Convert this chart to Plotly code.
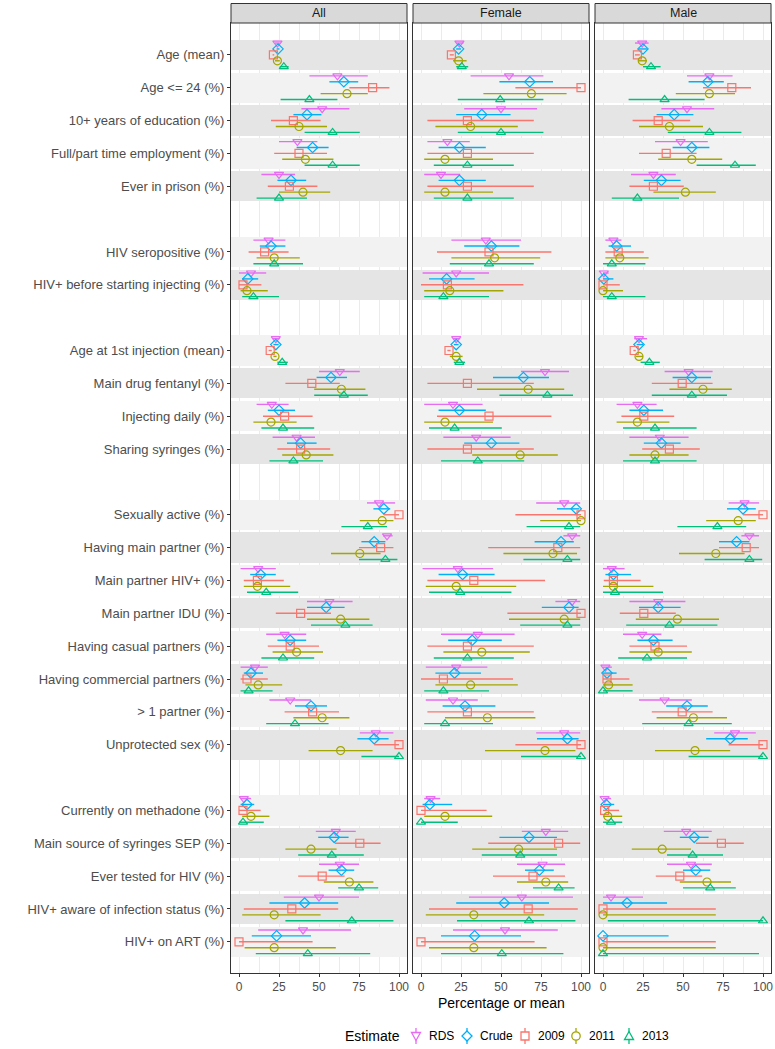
import plotly.graph_objects as go

# row labels, grouped (a blank row separates the groups)
DEMOGRAPHICS = ["Age (mean)", "Age <= 24 (%)", "10+ years of education (%)",
                "Full/part time employment (%)", "Ever in prison (%)"]
HIV_STATUS = ["HIV seropositive (%)", "HIV+ before starting injecting (%)"]
INJECTING = ["Age at 1st injection (mean)", "Main drug fentanyl (%)",
             "Injecting daily (%)", "Sharing syringes (%)"]
SEXUAL = ["Sexually active (%)", "Having main partner (%)", "Main partner HIV+ (%)",
          "Main partner IDU (%)", "Having casual partners (%)",
          "Having commercial partners (%)", "> 1 partner (%)", "Unprotected sex (%)"]
SERVICES = ["Currently on methadone (%)", "Main source of syringes SEP (%)",
            "Ever tested for HIV (%)", "HIV+ aware of infection status (%)", "HIV+ on ART (%)"]
GROUPS = [DEMOGRAPHICS, HIV_STATUS, INJECTING, SEXUAL, SERVICES]

PANELS = ["All", "Female", "Male"]
ESTIMATES = ["RDS", "Crude", "2009", "2011", "2013"]

# (estimate, lower, upper) per row, in row order
ALL_RDS = [(24, 22.5, 25.5), (61.5, 44, 80.5), (52, 39, 69), (36.5, 25, 49), (25, 14, 35),
           (18.5, 9, 29), (7.5, 0, 17),
           (23, 21, 25.5), (63, 50, 75.5), (20.5, 11, 31), (36, 21, 47.5),
           (87.5, 80, 97.5), (92.5, 90, 96), (12, 1, 23), (56.5, 42.5, 71), (28.5, 17, 42),
           (10, 1, 18), (32, 19, 45), (85.5, 75.5, 96.5),
           (3, 1, 7.5), (60.5, 48, 73), (63, 50, 75), (50, 28, 75), (40, 12, 70)]
ALL_CRUDE = [(24.4, 23.5, 25.3), (65.5, 56.5, 74.5), (42.5, 34, 51.5), (46, 36, 56), (32.5, 24, 42),
             (20, 13, 29), (5.5, 2, 12),
             (23, 21.5, 24.8), (57.5, 48.5, 67.5), (25, 18, 35), (38.5, 30, 48.5),
             (90.5, 84, 94.5), (84.5, 76.5, 91.5), (13.5, 7, 23), (54.5, 42.5, 66), (32, 24, 42),
             (7.5, 3, 15), (45, 35, 55), (84.5, 74, 93.5),
             (5, 1, 9.5), (59.5, 49.5, 68.5), (64, 56, 72), (41, 19, 62), (23.5, 8, 45)]
ALL_2009 = [(21.5, 21, 22), (83.5, 69, 94), (34, 20, 51), (37.5, 22, 55), (31.5, 18, 49),
            (16, 6, 31), (2.5, 0, 14),
            (19.5, 18.5, 20.5), (45.5, 29, 63), (28.5, 15, 46), (38.5, 24, 57),
            (100, 90.5, 100), (88.5, 75, 96.5), (11.5, 3, 28), (38.5, 23, 57.5), (32, 18, 50),
            (5, 1, 18), (46, 28.5, 62.5), (100, 84.5, 100),
            (2.5, 0, 13.5), (75.5, 60, 88.5), (52, 37, 66), (33, 3, 62), (0, 0, 46)]
ALL_2011 = [(24, 22.5, 25.5), (67.5, 51, 80.5), (37.5, 23, 55), (41.5, 27, 59), (40, 25, 57),
            (22, 11, 38), (5, 1, 18),
            (22.5, 21.5, 23.5), (64, 47, 79), (20, 9, 36), (42, 27, 59),
            (89.5, 75.5, 96.5), (75.5, 57.5, 88.5), (11.5, 3, 32), (63.5, 42.5, 81.5), (36, 21, 52.5),
            (12, 4, 27), (52, 34, 69), (63.5, 43.5, 83.5),
            (7.5, 2, 19), (45, 29, 61), (69, 53, 84), (22, 2, 51), (22, 3.5, 60.5)]
ALL_2013 = [(28, 25.5, 31), (44, 26, 61.5), (58.5, 41, 75.5), (58.5, 41, 75.5), (25, 11, 42.5),
            (22, 9, 40), (9, 2, 25),
            (27, 24, 30.5), (65.5, 47, 80.5), (27.5, 14, 47), (34, 19, 52.5),
            (80.5, 64, 92.5), (91.5, 75, 99), (17, 5, 37), (66.5, 45, 83.5), (27.5, 14, 47),
            (6, 1, 21), (35, 17, 56), (100, 76.5, 100),
            (2.5, 0, 15.5), (58, 37, 78), (75, 62, 87), (70.5, 29, 96.5), (43, 10.5, 82)]

FEMALE_RDS = [(24, 22, 26.5), (55, 31, 76.5), (50, 27, 72.5), (16.5, 4, 30.5), (12.5, 2, 24.5),
              (40.5, 19, 62.5), (22, 1, 42.5),
              (22, 20, 24.5), (77.5, 62.5, 92.5), (20, 2, 38.5), (34.5, 14, 56),
              (89.5, 72, 99.5), (94.5, 89, 99.5), (23, 1, 45), (94.5, 84, 99.5), (35.5, 12.5, 58.5),
              (22, 3, 41.5), (20, 3, 35.5), (89.5, 72, 99.5),
              (6, 2, 12), (78, 63, 92), (76, 60, 90), (63, 30, 95), (52.5, 20, 85.5)]
FEMALE_CRUDE = [(23.5, 22, 25), (68, 49, 82.5), (38, 22, 56), (24, 11, 40.5), (24, 11, 40.5),
                (44, 27, 61.5), (16, 5, 33.5),
                (22, 20.5, 23.5), (64, 45, 80), (24, 11, 40.5), (44, 27, 61.5),
                (97, 85, 99), (87.5, 71, 95.5), (26, 11, 46), (92.5, 75.5, 98.5), (32, 17, 50.5),
                (21, 9, 37.5), (27.5, 13.5, 46.5), (91.5, 72.5, 98.5),
                (5.5, 1, 19.5), (67.5, 49, 85), (74, 65, 83), (52, 22, 80), (33.5, 12.5, 62.5)]
FEMALE_2009 = [(19, 18, 20.5), (100, 59, 100), (29, 4, 70.5), (29, 4, 70.5), (29, 4, 70.5),
               (42.5, 10, 81.5), (16.5, 0, 64),
               (17.5, 16.5, 18.5), (29, 4, 70.5), (42.5, 10, 81.5), (29, 4, 70.5),
               (100, 59, 100), (85.5, 42, 99.5), (33, 4, 77.5), (100, 54, 100), (29, 4, 70.5),
               (14, 0, 57.5), (29, 4, 70.5), (100, 59, 100),
               (0, 0, 41), (86, 42, 99.5), (70, 45, 90), (67, 5, 98), (0, 0, 71)]
FEMALE_2011 = [(23.5, 20, 28.5), (69, 39, 91), (31, 9, 60.5), (15, 2, 45), (15, 2, 45),
               (46, 19, 74.5), (18, 2, 51.5),
               (22, 18, 26), (67, 35, 89.5), (15, 2, 45), (62, 32, 85.5),
               (100, 74.5, 100), (82.5, 51.5, 97.5), (22, 3, 59.5), (89.5, 55, 99.5), (38, 14, 68),
               (31, 9, 60.5), (41.5, 15, 71.5), (77.5, 40, 96.5),
               (15, 2, 44.5), (61, 32, 85), (78, 60, 92), (33, 3, 77), (33, 5, 78.5)]
FEMALE_2013 = [(25.5, 22, 29.5), (49.5, 23, 76.5), (50, 23, 76.5), (29, 8, 58), (29, 8, 58),
               (42.5, 18, 70.5), (14, 2, 42.5),
               (24, 20.5, 27.5), (79, 49, 95), (21, 5, 50.5), (35.5, 12.5, 64.5),
               (92.5, 66, 99.5), (91.5, 64, 99.5), (24.5, 5, 56.5), (91.5, 62, 99.5), (29, 8, 58),
               (14, 2, 42.5), (15, 2, 45), (100, 62.5, 100),
               (0, 0, 23), (62, 38, 85), (86, 70, 96), (67.5, 22.5, 96.5), (50.5, 12.5, 89)]

MALE_RDS = [(24.5, 20, 28.5), (66.5, 52.5, 81), (52.5, 36.5, 69.5), (48.5, 32.5, 65.5), (31.5, 17.5, 45.5),
            (6.5, 1.5, 11.5), (0.5, 0, 3.5),
            (22.5, 19.5, 27.5), (53.5, 38.5, 68.5), (21.5, 8.5, 33.5), (35.5, 16.5, 53.5),
            (88.5, 78.5, 97.5), (91.5, 86.5, 97.5), (5.5, 0, 13.5), (34.5, 16.5, 51.5), (24.5, 12.5, 36.5),
            (1.5, 0, 5.5), (38.5, 22.5, 55.5), (82.5, 69.5, 95.5),
            (1, 0, 5), (52, 38, 68), (55, 40, 68), (5, 0, 25), None]
MALE_CRUDE = [(25, 22.5, 27.5), (65.5, 53.5, 75.5), (44.5, 33.5, 56.5), (55.5, 43.5, 66.5), (36.5, 25.5, 48.5),
              (8.5, 3.5, 17.5), (0.5, 0, 6.5),
              (22.5, 21, 25), (55.5, 43.5, 67.5), (25.5, 16.5, 37.5), (36.5, 25.5, 48.5),
              (87.5, 77.5, 95.5), (83.5, 72.5, 91.5), (6.5, 1.5, 17.5), (34.5, 22.5, 48.5), (31.5, 21.5, 43.5),
              (2.5, 0, 8.5), (52.5, 39.5, 65.5), (79.5, 64.5, 90.5),
              (2, 0, 7), (57, 48, 66), (58, 50, 67), (15, 0, 40), (0, 0, 41)]
MALE_2009 = [(21.5, 20, 23), (80.5, 62.5, 92.5), (34.5, 18.5, 54.5), (39.5, 22.5, 58.5), (31.5, 16.5, 50.5),
             (9.5, 1.5, 25.5), (0, 0, 10.5),
             (19.5, 19, 20.5), (49.5, 30.5, 68.5), (25.5, 11.5, 44.5), (41.5, 24.5, 60.5),
             (100, 87.5, 100), (89.5, 72.5, 97.5), (6.5, 0.5, 23.5), (25.5, 10.5, 45.5), (32.5, 16.5, 52.5),
             (2.5, 0, 16.5), (49.5, 30.5, 68.5), (100, 78.5, 100),
             (1, 0, 10), (74, 58, 88), (48, 33, 62), (0, 0, 70.5), (0, 0, 70.5)]
MALE_2011 = [(24.5, 22, 27.5), (66.5, 45.5, 82.5), (41.5, 22.5, 62.5), (55.5, 34.5, 74.5), (51.5, 31.5, 70.5),
             (10.5, 1.5, 28.5), (0, 0, 12.5),
             (22.5, 20.5, 25), (62.5, 41.5, 80.5), (21.5, 8.5, 41.5), (32.5, 16.5, 53.5),
             (84.5, 64.5, 95.5), (70.5, 47.5, 88.5), (6.5, 0, 31.5), (46.5, 20.5, 72.5), (34.5, 16.5, 55.5),
             (3.5, 0, 18.5), (56.5, 33.5, 77.5), (57.5, 32.5, 79.5),
             (3, 0, 12), (37, 18, 55), (65, 48, 80), (0, 0, 70.5), (0, 0, 70.5)]
MALE_2013 = [(30, 25, 36), (38.5, 16, 63.5), (66.5, 40.5, 86.5), (82.5, 58.5, 95.5), (21.5, 5.5, 47.5),
             (5.5, 0, 26.5), (5.5, 0, 26.5),
             (29, 23.5, 35.5), (55.5, 30.5, 77.5), (32.5, 12.5, 58.5), (32.5, 12.5, 58.5),
             (71.5, 46.5, 89.5), (91.5, 63.5, 99.5), (7.5, 0, 37.5), (41.5, 14.5, 71.5), (27.5, 9.5, 52.5),
             (0, 0, 18.5), (53.5, 24.5, 80.5), (100, 53.5, 100),
             (5, 0, 12), (56, 40, 75), (67, 50, 83), (100, 3, 100), (0, 0, 97.5)]

DATA = {
    "All": [ALL_RDS, ALL_CRUDE, ALL_2009, ALL_2011, ALL_2013],
    "Female": [FEMALE_RDS, FEMALE_CRUDE, FEMALE_2009, FEMALE_2011, FEMALE_2013],
    "Male": [MALE_RDS, MALE_CRUDE, MALE_2009, MALE_2011, MALE_2013],
}

COLORS = {"RDS": "#E76BF3", "Crude": "#00B0F6", "2009": "#F8766D", "2011": "#A3A500", "2013": "#00BF7D"}
SYMBOLS = {"RDS": "triangle-down-open", "Crude": "diamond-open", "2009": "square-open",
           "2011": "circle-open", "2013": "triangle-up-open"}
DODGE = {"RDS": -0.36, "Crude": -0.18, "2009": 0.0, "2011": 0.18, "2013": 0.36}

# legend key outlines, in pixels around the key centre (y up)
KEY_PATHS = {
    "RDS": "M -4.5,3.5 L 4.5,3.5 L 0,-4.5 Z",
    "Crude": "M 0,5 L 5,0 L 0,-5 L -5,0 Z",
    "2009": "M -4,-4 L 4,-4 L 4,4 L -4,4 Z",
    "2013": "M -4.5,-3.5 L 4.5,-3.5 L 0,4.5 Z",
}

FONT = "Liberation Sans, Arial, sans-serif"
TEXT_GREY = "#4d4d4d"
X_MIN, X_MAX = -5, 105

W, H = 775, 1049
M_L, M_R, M_T, M_B = 231, 4, 3, 76
PLOT_W, PLOT_H = W - M_L - M_R, H - M_T - M_B


def px_x(px):
    return (px - M_L) / PLOT_W


def px_y(py):
    return (H - M_B - py) / PLOT_H


# row positions with a blank slot between groups
labels, positions = [], []
pos = 0
for group in GROUPS:
    for lab in group:
        labels.append(lab)
        positions.append(pos)
        pos += 1
    pos += 1
last_pos = positions[-1]
band_colors = ["#e5e5e5" if i % 2 == 0 else "#f2f2f2" for i in range(len(positions))]

X_DOMAINS = [[px_x(231), px_x(407)], [px_x(413), px_x(589)], [px_x(595), px_x(771)]]
Y_TOP = px_y(23)

fig = go.Figure()
shapes = []
annotations = []

for p, panel in enumerate(PANELS):
    sfx = "" if p == 0 else str(p + 1)

    # alternating grey bands behind each row (bars sit above the grid lines)
    fig.add_trace(go.Bar(
        y=positions, x=[X_MAX - X_MIN] * len(positions), base=X_MIN,
        orientation="h", width=0.92, marker=dict(color=band_colors, line=dict(width=0)),
        xaxis="x" + sfx, yaxis="y" + sfx, showlegend=False, hoverinfo="skip",
    ))

    for e, est in enumerate(ESTIMATES):
        series = DATA[panel][e]
        xs, ys, plus, minus = [], [], [], []
        for row, val in zip(positions, series):
            if val is None:
                continue
            mid, lo, hi = val
            xs.append(mid)
            ys.append(row + DODGE[est])
            plus.append(hi - mid)
            minus.append(mid - lo)
        fig.add_trace(go.Scatter(
            x=xs, y=ys, mode="markers", name=est, showlegend=False,
            xaxis="x" + sfx, yaxis="y" + sfx,
            marker=dict(symbol=SYMBOLS[est], color=COLORS[est], size=8,
                        line=dict(width=1.2, color=COLORS[est])),
            error_x=dict(type="data", symmetric=False, array=plus, arrayminus=minus,
                         width=0, thickness=1.4, color=COLORS[est]),
        ))

    # facet strip
    x0, x1 = X_DOMAINS[p]
    shapes.append(dict(
        type="rect", xref="paper", yref="paper",
        x0=x0, x1=x1, y0=Y_TOP, y1=px_y(3.5),
        fillcolor="#d9d9d9", line=dict(color="#333333", width=1),
    ))
    annotations.append(dict(
        text=panel, xref="paper", yref="paper",
        x=(x0 + x1) / 2, y=px_y(13.5), xanchor="center", yanchor="middle",
        showarrow=False, font=dict(size=12.5, color="#1a1a1a", family=FONT),
    ))

    xaxis = dict(
        domain=X_DOMAINS[p], anchor="y" + sfx, range=[X_MIN, X_MAX],
        tickvals=[0, 25, 50, 75, 100], showgrid=True, gridcolor="#ebebeb", gridwidth=1,
        minor=dict(tick0=12.5, dtick=25, showgrid=True, gridcolor="#ebebeb", gridwidth=0.6),
        zeroline=False, showline=True, mirror=True, linecolor="#333333", linewidth=1,
        ticks="outside", ticklen=3, tickcolor="#333333",
        tickfont=dict(size=12, color=TEXT_GREY, family=FONT),
    )
    yaxis = dict(
        domain=[0, Y_TOP], anchor="x" + sfx, range=[last_pos + 0.95, -0.97],
        tickvals=positions, ticktext=labels, showgrid=False, zeroline=False,
        showline=True, mirror=True, linecolor="#333333", linewidth=1,
    )
    if p == 0:
        yaxis.update(ticks="outside", ticklen=3, tickcolor="#333333",
                     tickfont=dict(size=13, color=TEXT_GREY, family=FONT))
    else:
        yaxis.update(matches="y", showticklabels=False, ticks="")
    fig.update_layout(**{"xaxis" + sfx: xaxis, "yaxis" + sfx: yaxis})

annotations.append(dict(
    text="Percentage or mean", xref="paper", yref="paper", x=0.5, y=px_y(1003),
    xanchor="center", yanchor="middle", showarrow=False,
    font=dict(size=14, color="black", family=FONT),
))

# legend drawn by hand so its spacing follows the original
LEG_Y = 1036
KEY_X = {"RDS": 416, "Crude": 467, "2009": 525, "2011": 576, "2013": 629}
annotations.append(dict(
    text="Estimate", xref="paper", yref="paper", x=px_x(402), y=px_y(LEG_Y),
    xanchor="right", yanchor="middle", showarrow=False,
    font=dict(size=14, color="black", family=FONT),
))
for est in ESTIMATES:
    kx, ky = px_x(KEY_X[est]), px_y(LEG_Y)
    common = dict(xref="paper", yref="paper", xsizemode="pixel", ysizemode="pixel",
                  xanchor=kx, yanchor=ky, line=dict(color=COLORS[est], width=1.3))
    shapes.append(dict(type="line", x0=0, x1=0, y0=-8, y1=8, **common))
    if est == "2011":
        shapes.append(dict(type="circle", x0=-4.2, x1=4.2, y0=-4.2, y1=4.2,
                           fillcolor="white", **common))
    else:
        shapes.append(dict(type="path", path=KEY_PATHS[est], fillcolor="white", **common))
    annotations.append(dict(
        text=est, xref="paper", yref="paper", x=px_x(KEY_X[est] + 11), y=ky,
        xanchor="left", yanchor="middle", showarrow=False,
        font=dict(size=12, color="black", family=FONT),
    ))

fig.update_layout(
    width=W, height=H,
    margin=dict(l=M_L, r=M_R, t=M_T, b=M_B),
    paper_bgcolor="white", plot_bgcolor="white",
    font=dict(family=FONT),
    barmode="overlay", bargap=0, showlegend=False,
    shapes=shapes, annotations=annotations,
)

# drop the page's default body margin so the figure sits at the window origin
fig.write_html(
    "out.html",
    config={"displayModeBar": False},
    post_script="document.body.style.margin = '0';",
)
